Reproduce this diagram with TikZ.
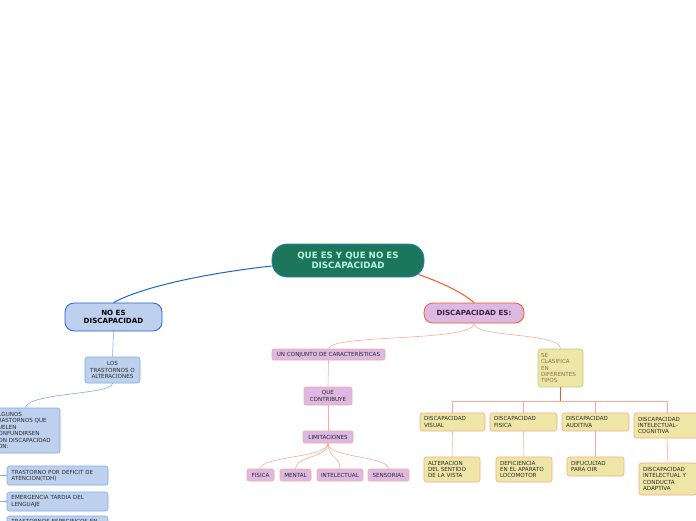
\documentclass[tikz,border=0pt]{standalone}
\usepackage{fontspec}
\setmainfont{DejaVu Sans}
\usepackage{xcolor}
\usepackage{tikz}
\definecolor{rootfill}{HTML}{1C765C}
\definecolor{rootline}{HTML}{2F7FC2}
\definecolor{roottext}{HTML}{BDF2DC}
\definecolor{bluefill}{HTML}{BDD1EE}
\definecolor{blueline}{HTML}{1F62D4}
\definecolor{lightblue}{HTML}{82AAE6}
\definecolor{lilac}{HTML}{DCB8E2}
\definecolor{redline}{HTML}{F05A28}
\definecolor{salmon}{HTML}{F6AC96}
\definecolor{khaki}{HTML}{EEE6A6}
\definecolor{khakiline}{HTML}{C9C488}
\definecolor{graytext}{HTML}{857457}
\definecolor{darkpurple}{HTML}{3A1E40}
\definecolor{boxtext}{HTML}{2A2A2A}

\begin{document}
\begin{tikzpicture}[x=1pt, y=-1pt,
    tiny/.style={font=\fontsize{5.6}{6.4}\selectfont, text=boxtext},
    rootbox/.style={draw=rootline, line width=0.8pt, fill=rootfill, rounded corners=15pt, text=roottext, font=\fontsize{8.7}{10.4}\selectfont\bfseries, align=center, minimum width=152, minimum height=33, inner sep=1pt},
    mainbox/.style={line width=0.8pt, rounded corners=9pt, font=\fontsize{7.1}{8.2}\selectfont\bfseries, align=center, inner sep=1pt},
    bluebox/.style={tiny, draw=lightblue, line width=0.6pt, fill=bluefill, rounded corners=2.5pt, inner ysep=1pt, inner xsep=4.5pt},
    lilacbox/.style={tiny, draw=salmon, line width=0.6pt, fill=lilac, rounded corners=2pt, align=center, inner sep=1pt, minimum height=12},
    khakibox/.style={tiny, draw=salmon!90!orange, line width=0.6pt, fill=khaki, rounded corners=2.5pt, align=left, inner ysep=1pt, inner xsep=4pt},
    blink/.style={lightblue, line width=0.6pt},
    slink/.style={salmon, line width=0.6pt}]
\useasboundingbox (0,0) rectangle (696,520);

% centre
\node[rootbox] (root) at (348,260.5) {QUE ES Y QUE NO ES\\DISCAPACIDAD};

% left branch
\node[mainbox, draw=blueline, fill=bluefill, minimum width=97, minimum height=28] (noes) at (113.5,317) {NO ES\\DISCAPACIDAD};
\node[bluebox, align=center, minimum width=55, minimum height=26, inner xsep=1pt] (trast) at (112.5,370) {LOS\\TRASTORNOS O\\ALTERACIONES};
\node[bluebox, align=left, text width=61, minimum height=45] (algunos) at (25,430.5) {ALGUNOS\\TRASTORNOS QUE\\SUELEN\\CONFUNDIRSEN\\CON DISCAPACIDAD\\SON:};
\node[bluebox, align=left, text width=92, minimum height=19] (tdh) at (57.5,475.5) {TRASTORNO POR DEFICIT DE\\ATENCION(TDH)};
\node[bluebox, align=left, text width=92, minimum height=19] (lenguaje) at (57.5,501.5) {EMERGENCIA TARDIA DEL\\LENGUAJE};
\node[bluebox, align=left, text width=92, minimum height=19] (especif) at (57.5,525.5) {TRASTORNOS ESPECIFICOS EN\\EL APRENDIZAJE};

\draw[blueline, line width=1pt] (root.west) ++(0,5.5) .. controls (200,274) and (140,288) .. (noes.north);
\draw[blink] (noes.south) -- (trast.north);
\draw[blink] (trast.south) .. controls (112,395) and (30,392) .. (algunos.north);
\draw[blink] (algunos.south west) ++(5,0) |- (tdh.west);
\draw[blink] (algunos.south west) ++(5,0) |- (lenguaje.west);

% right branch
\node[mainbox, draw=redline, fill=lilac, text=darkpurple, minimum width=100, minimum height=20] (eses) at (474,313) {DISCAPACIDAD ES:};
\draw[redline, line width=1pt] (root.south east) ++(-6,-3) .. controls (440,282) and (462,292) .. (eses.north);

\node[lilacbox, minimum width=113, minimum height=11] (conjunto) at (328.5,354.5) {UN CONJUNTO DE CARACTERÍSTICAS};
\node[lilacbox, minimum width=48, minimum height=18] (contribuye) at (328,396) {QUE\\CONTRIBUYE};
\node[lilacbox, minimum width=50] (limit) at (328,437) {LIMITACIONES};
\node[lilacbox, minimum width=27] (fisica) at (260.5,475) {FISICA};
\node[lilacbox, minimum width=31] (mental) at (295.5,475) {MENTAL};
\node[lilacbox, minimum width=46] (intel) at (340,475) {INTELECTUAL};
\node[lilacbox, minimum width=41] (sensor) at (388.5,475) {SENSORIAL};

\draw[slink] (eses.south) .. controls (474,342) and (330,334) .. (conjunto.north);
\draw[slink] (conjunto.south) -- (contribuye.north);
\draw[slink] (contribuye.south) -- (limit.north);
\foreach \n in {fisica, mental, intel, sensor}
    \draw[slink] (limit.south) .. controls (328,458) and (\n.north |- 0,456) .. (\n.north);

\node[tiny, draw=khakiline, line width=0.6pt, fill=khaki, text=graytext, rounded corners=3pt, align=left, text width=39, minimum height=38, inner sep=3pt] (clasif) at (560.5,368) {SE\\CLASIFICA\\EN\\DIFERENTES\\TIPOS};
\draw[slink] (eses.south) .. controls (474,338) and (560,332) .. (clasif.north);

\node[khakibox, text width=57, minimum height=18] (visual) at (452.5,422) {DISCAPACIDAD\\VISUAL};
\node[khakibox, text width=59, minimum height=18] (fisic) at (523.5,422) {DISCAPACIDAD\\FISICA};
\node[khakibox, text width=59, minimum height=18] (auditiva) at (595.5,422) {DISCAPACIDAD\\AUDITIVA};
\node[khakibox, text width=58, minimum height=25] (cognit) at (667,425.5) {DISCAPACIDAD\\INTELECTUAL-\\COGNITIVA};

\coordinate (fork) at (560.5,401);
\draw[redline, line width=0.8pt] (clasif.south) -- (fork);
\foreach \n in {visual, fisic, auditiva, cognit}
    \draw[slink] (fork) -| (\n.north);

\node[khakibox, text width=48, minimum height=25] (vista) at (452,469.5) {ALTERACION\\DEL SENTIDO\\DE LA VISTA};
\node[khakibox, text width=48, minimum height=25] (locom) at (524,469.5) {DEFICIENCIA\\EN EL APARATO\\LOCOMOTOR};
\node[khakibox, text width=49, minimum height=19] (oir) at (595.5,466.5) {DIFUCULTAD\\PARA OIR};
\node[khakibox, text width=50, minimum height=32] (adapt) at (668,479) {DISCAPACIDAD\\INTELECTUAL Y\\CONDUCTA\\ADAPTIVA};

\draw[slink] (visual.south) -- (vista.north);
\draw[slink] (fisic.south) -- (locom.north);
\draw[slink] (auditiva.south) -- (oir.north);
\draw[slink] (cognit.south) -- (adapt.north);
\end{tikzpicture}
\end{document}
